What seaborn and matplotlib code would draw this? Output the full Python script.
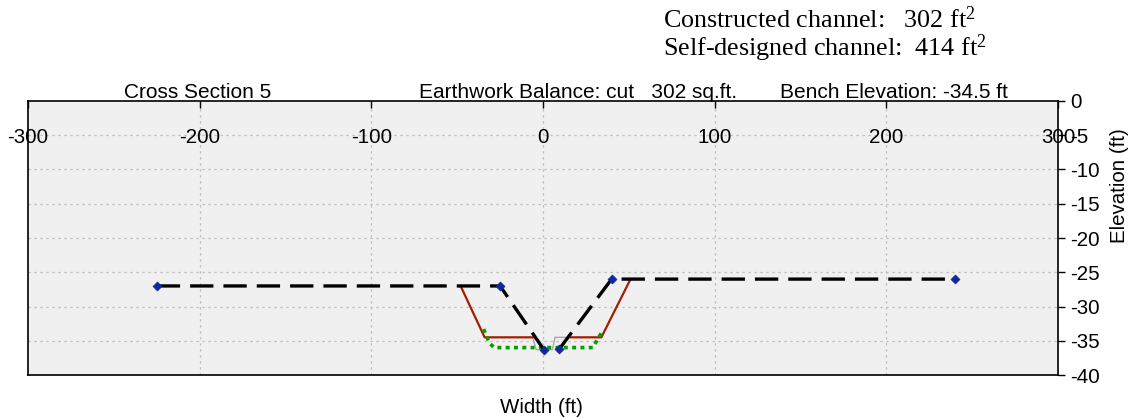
import pandas as pd
import matplotlib
matplotlib.use("Agg")
import matplotlib.pyplot as plt
import seaborn as sns

# Datos leidos de la figura
# perfil existente (linea negra a trazos, con marcadores en los vertices)
exist_x = [-225, -25, 0.5, 9.5, 40, 240]
exist_y = [-27.0, -27.0, -36.3, -36.2, -26.0, -26.0]

# canal construido (rojo), en dos tramos
const_izq_x = [-48, -34, -6]
const_izq_y = [-27.0, -34.5, -34.5]
const_der_x = [16, 34, 51]
const_der_y = [-34.5, -34.5, -26.0]

# canal minimo (gris fino)
thal_x = [-6, -4, 5.5, 7, 16]
thal_y = [-34.5, -36.3, -36.3, -34.5, -34.5]

# canal auto-disenado (verde punteado)
auto_x = [-34.6, -31.3, -28.5, 29, 32, 34.4]
auto_y = [-33.3, -35.3, -36.0, -36.0, -34.7, -33.7]

xticks = [-300, -200, -100, 0, 100, 200, 300]
yticks = [0, -5, -10, -15, -20, -25, -30, -35, -40]

sns.set_style("white")
plt.rcParams['font.family'] = ['Liberation Sans', 'DejaVu Sans']
plt.rcParams['text.color'] = 'black'
plt.rcParams['axes.labelcolor'] = 'black'
plt.rcParams['mathtext.fontset'] = 'custom'
plt.rcParams['mathtext.rm'] = 'Liberation Serif'
plt.rcParams['mathtext.it'] = 'Liberation Serif'
plt.rcParams['mathtext.bf'] = 'Liberation Serif'

fig = plt.figure(figsize=(11.3, 4.19), dpi=100)
ax = fig.add_axes([28 / 1130, 1 - 375 / 419, 1030 / 1130, 274 / 419])
ax.set_facecolor('#f0f0f0')

# grilla punteada
for xv in xticks[1:-1]:
    ax.axvline(xv, color='#bcbcbc', lw=0.9, dashes=(1.8, 3), zorder=0)
for yv in yticks[1:-1]:
    ax.axhline(yv, color='#bcbcbc', lw=0.9, dashes=(1.8, 3), zorder=0)

df_thal = pd.DataFrame({'x': thal_x, 'y': thal_y})
sns.lineplot(data=df_thal, x='x', y='y', sort=False, estimator=None,
             color='#a8a8a8', lw=1, ax=ax, zorder=2)

for cx, cy in [(const_izq_x, const_izq_y), (const_der_x, const_der_y)]:
    df_c = pd.DataFrame({'x': cx, 'y': cy})
    sns.lineplot(data=df_c, x='x', y='y', sort=False, estimator=None,
                 color='#a51d00', lw=1.6, ax=ax, zorder=3)

df_auto = pd.DataFrame({'x': auto_x, 'y': auto_y})
sns.lineplot(data=df_auto, x='x', y='y', sort=False, estimator=None,
             color='#00a000', lw=2.6, ax=ax, zorder=4)
ax.lines[-1].set_dashes((1.1, 1.2))

df_exist = pd.DataFrame({'x': exist_x, 'y': exist_y})
sns.lineplot(data=df_exist, x='x', y='y', sort=False, estimator=None,
             color='black', lw=2.4, ax=ax, zorder=5)
ax.lines[-1].set_dashes((7, 3))
sns.scatterplot(data=df_exist, x='x', y='y', marker='D', s=22,
                color='#12289a', edgecolor='#12289a', ax=ax, zorder=6)

ax.set_xlim(-300, 300)
ax.set_ylim(-40, 0)
ax.set_xticks(xticks)
ax.set_yticks(yticks)
ax.set_xticklabels([str(v) for v in xticks])
ax.set_yticklabels([str(v) for v in yticks])

ax.xaxis.tick_top()
ax.tick_params(axis='x', direction='in', length=5, width=1, pad=-33,
               labelsize=14.8, top=True, bottom=False,
               labeltop=True, labelbottom=False, colors='black')
ax.yaxis.tick_right()
ax.tick_params(axis='y', direction='out', length=5, width=1, pad=4,
               labelsize=14.8, right=True, left=False, colors='black')

for s in ax.spines.values():
    s.set_visible(True)
    s.set_color('black')
    s.set_linewidth(1.2)

ax.set_xlabel('Width (ft)', fontsize=14.8)
ax.xaxis.set_label_position('bottom')
ax.xaxis.set_label_coords(0.4985, -0.085)
ax.set_ylabel('Elevation (ft)', fontsize=14.8)
ax.yaxis.set_label_position('right')
ax.yaxis.set_label_coords(1.06, 0.69)
ax.yaxis.label.set_va('center')

trans = ax.get_xaxis_transform()
ax.text(-201, 1.012, 'Cross Section 5', transform=trans, ha='center', va='baseline', fontsize=15)
ax.text(20.4, 1.012, 'Earthwork Balance: cut   302 sq.ft.', transform=trans, ha='center', va='baseline', fontsize=15)
ax.text(204.7, 1.012, 'Bench Elevation: -34.5 ft', transform=trans, ha='center', va='baseline', fontsize=15)

# areas de los canales, en un solo bloque de dos lineas
fig.text(663 / 1130, 1 - 35 / 419,
         'Constructed channel:   302 ft$^{2}$\nSelf-designed channel:  414 ft$^{2}$',
         ha='left', va='center', linespacing=1.0,
         fontsize=18.8, family=['Liberation Serif', 'DejaVu Serif'])

fig.savefig('out.png', dpi=100)
